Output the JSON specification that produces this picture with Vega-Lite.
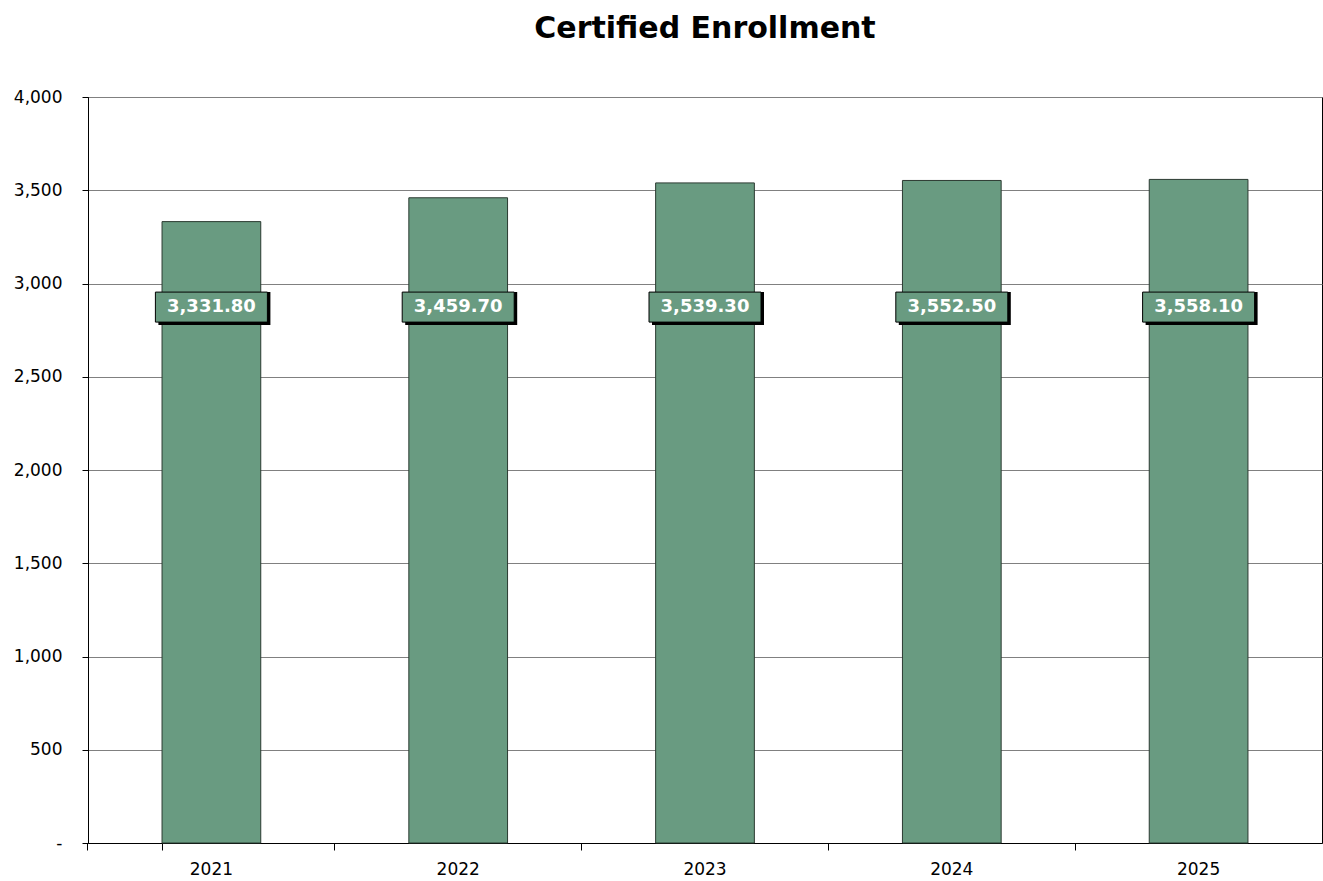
{
  "$schema": "https://vega.github.io/schema/vega-lite/v6.json",
  "width": 1234,
  "height": 746,
  "autosize": {"type": "none"},
  "padding": {"left": 88, "top": 97, "right": 1, "bottom": 38},
  "background": "white",
  "config": {
    "font": "DejaVu Sans",
    "view": {"stroke": "#000000", "strokeWidth": 1}
  },
  "title": {
    "text": "Certified Enrollment",
    "font": "DejaVu Sans",
    "fontSize": 30,
    "fontWeight": "bold",
    "color": "#000000",
    "anchor": "middle",
    "frame": "group",
    "offset": 44
  },
  "data": {
    "values": [
      {"year": "2021", "value": 3331.8},
      {"year": "2022", "value": 3459.7},
      {"year": "2023", "value": 3539.3},
      {"year": "2024", "value": 3552.5},
      {"year": "2025", "value": 3558.1}
    ]
  },
  "encoding": {
    "x": {
      "field": "year",
      "type": "nominal",
      "title": null,
      "scale": {"paddingInner": 0.6, "paddingOuter": 0.3},
      "axis": {
        "labelAngle": 0,
        "labelFont": "DejaVu Sans",
        "labelFontSize": 17,
        "labelColor": "#000000",
        "labelPadding": 11,
        "domainColor": "#000000",
        "tickColor": "#000000",
        "tickSize": 7,
        "bandPosition": -0.75,
        "tickExtra": true,
        "grid": false
      }
    }
  },
  "layer": [
    {
      "mark": {"type": "bar", "fill": "#699B81", "stroke": "#2B3A31", "strokeWidth": 1},
      "encoding": {
        "y": {
          "field": "value",
          "type": "quantitative",
          "title": null,
          "scale": {"domain": [0, 4000], "nice": false},
          "axis": {
            "values": [0, 500, 1000, 1500, 2000, 2500, 3000, 3500, 4000],
            "labelExpr": "datum.value == 0 ? '-' : format(datum.value, ',')",
            "labelFont": "DejaVu Sans",
            "labelFontSize": 17,
            "labelColor": "#000000",
            "labelPadding": 20,
            "domainColor": "#000000",
            "tickColor": "#000000",
            "tickSize": 6,
            "grid": true,
            "gridColor": "#808080",
            "gridWidth": 1
          }
        }
      }
    },
    {
      "mark": {"type": "bar", "width": 112, "fill": "#000000", "xOffset": 3, "yOffset": 3},
      "encoding": {
        "y": {"datum": 2793, "type": "quantitative"},
        "y2": {"datum": 2954}
      }
    },
    {
      "mark": {"type": "bar", "width": 112, "fill": "#699B81", "stroke": "#000000", "strokeWidth": 1},
      "encoding": {
        "y": {"datum": 2793, "type": "quantitative"},
        "y2": {"datum": 2954}
      }
    },
    {
      "mark": {"type": "text", "color": "#FFFFFF", "font": "DejaVu Sans", "fontWeight": "bold", "fontSize": 18, "baseline": "middle", "align": "center"},
      "encoding": {
        "y": {"datum": 2874, "type": "quantitative"},
        "text": {"field": "value", "type": "quantitative", "format": ",.2f"}
      }
    }
  ]
}
